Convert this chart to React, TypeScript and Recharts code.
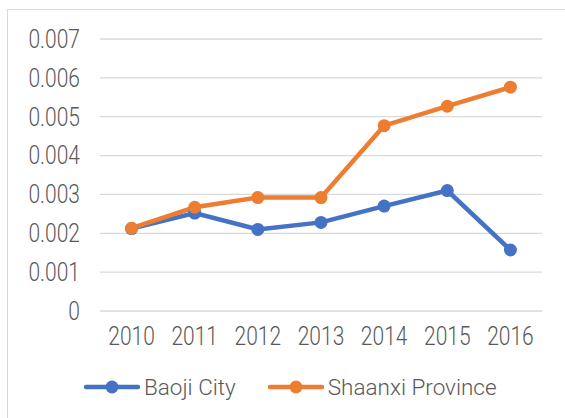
import React from 'react'
import { LineChart, Line, XAxis, YAxis, CartesianGrid, Legend } from 'recharts'

const YEARS = ['2010', '2011', '2012', '2013', '2014', '2015', '2016']
const BAOJI = [0.00212, 0.00252, 0.0021, 0.00228, 0.0027, 0.0031, 0.00157]
const SHAANXI = [0.00213, 0.00267, 0.00292, 0.00292, 0.00477, 0.00527, 0.00576]
const Y_TICKS = [0, 0.001, 0.002, 0.003, 0.004, 0.005, 0.006, 0.007]

const SERIES = [
    { key: 'baoji', name: 'Baoji City', color: '#4472C4' },
    { key: 'shaanxi', name: 'Shaanxi Province', color: '#ED7D31' },
]

const data = YEARS.map((year, i) => ({
    year,
    baoji: BAOJI[i],
    shaanxi: SHAANXI[i],
}))

const FONT = "Roboto, 'Liberation Sans', sans-serif"
const TEXT = '#595959'

// narrow digits, like the original's font
function XTick({ x, y, payload }: any) {
    return (
        <g transform={`translate(${x},${y}) scale(0.84,1)`}>
            <text x={0} y={0} dy="0.71em" textAnchor="middle" fill={TEXT} fontSize={25} fontWeight={300} fontFamily={FONT}>
                {payload.value}
            </text>
        </g>
    )
}

function YTick({ x, y, payload }: any) {
    const v = payload.value as number
    return (
        <g transform={`translate(${x},${y}) scale(0.84,1)`}>
            <text x={0} y={0} dy="0.355em" textAnchor="end" fill={TEXT} fontSize={25} fontWeight={300} fontFamily={FONT}>
                {v === 0 ? '0' : v.toFixed(3)}
            </text>
        </g>
    )
}

function LegendContent() {
    return (
        <div style={{ display: 'flex', alignItems: 'center', height: 40, paddingLeft: 84, fontFamily: FONT, fontSize: 22.5, fontWeight: 300, color: TEXT }}>
            {SERIES.map((s, i) => (
                <div key={s.key} style={{ display: 'flex', alignItems: 'center', marginRight: i === 0 ? 32 : 0 }}>
                    <svg width={56} height={16}>
                        <line x1={2} y1={8} x2={54} y2={8} stroke={s.color} strokeWidth={4.5} strokeLinecap="round" />
                        <circle cx={28} cy={8} r={6.5} fill={s.color} />
                    </svg>
                    <span style={{ marginLeft: 4 }}>{s.name}</span>
                </div>
            ))}
        </div>
    )
}

export default function App() {
    return (
        <div style={{ position: 'absolute', left: 0, top: 0, width: 565, height: 418, overflow: 'hidden', background: '#fff' }}>
            <div style={{ position: 'absolute', left: 7, top: 9, width: 600, height: 500, borderLeft: '1.5px solid #D9D9D9', borderTop: '1.5px solid #D9D9D9' }} />
            <LineChart width={565} height={418} data={data} margin={{ top: 39, right: 23, bottom: 11, left: 0 }}>
                <CartesianGrid vertical={false} stroke="#D9D9D9" strokeWidth={1.3} />
                <XAxis
                    dataKey="year"
                    scale="band"
                    axisLine={false}
                    tickLine={false}
                    tickSize={0}
                    tickMargin={16}
                    height={56}
                    tick={<XTick />}
                />
                <YAxis
                    width={100}
                    domain={[0, 0.007]}
                    ticks={Y_TICKS}
                    axisLine={false}
                    tickLine={false}
                    tickSize={0}
                    tickMargin={20}
                    tick={<YTick />}
                />
                {SERIES.map(s => (
                    <Line
                        key={s.key}
                        dataKey={s.key}
                        name={s.name}
                        stroke={s.color}
                        strokeWidth={4.5}
                        dot={{ r: 6.5, fill: s.color, stroke: s.color, strokeWidth: 0 }}
                        isAnimationActive={false}
                    />
                ))}
                <Legend verticalAlign="bottom" content={<LegendContent />} />
            </LineChart>
        </div>
    )
}
